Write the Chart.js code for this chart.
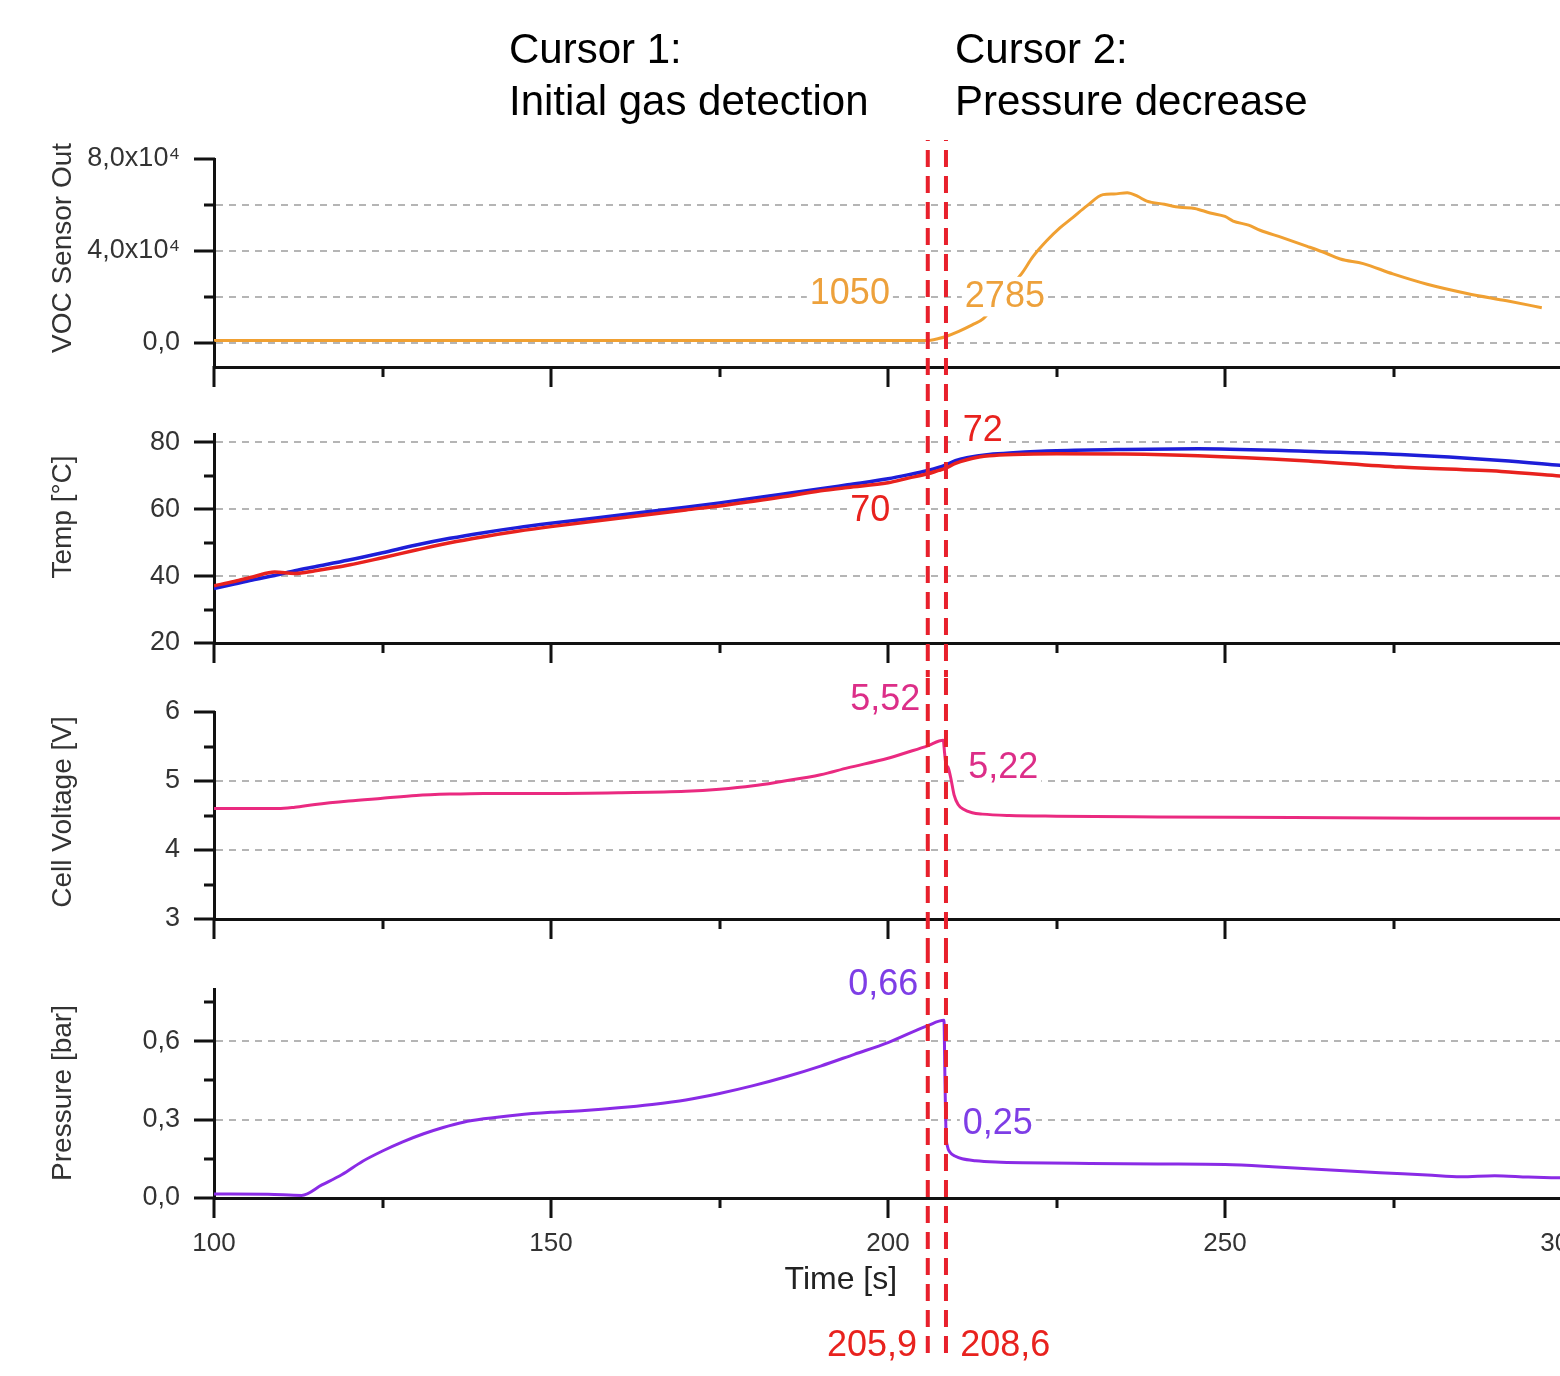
<!DOCTYPE html>
<html lang="en">
<head>
    <meta charset="UTF-8">
    <title>Cursor analysis - VOC, temperature, voltage, pressure</title>
    <script src="https://cdn.jsdelivr.net/npm/chart.js"></script>
    <style>
        body { margin: 0; background: #fff; }
        .stack { position: relative; width: 1560px; height: 1376px; overflow: hidden; background: #fff; }
        .stack canvas { position: absolute; left: 0; }
    </style>
</head>
<body>
    <div class="stack">
        <canvas id="vocChart" width="1560" height="400" style="top:0px"></canvas>
        <canvas id="tempChart" width="1560" height="277" style="top:400px"></canvas>
        <canvas id="voltChart" width="1560" height="277" style="top:677px"></canvas>
        <canvas id="presChart" width="1560" height="422" style="top:954px"></canvas>
    </div>

    <script>
        // --- data ---
        const vocTime  = [100, 205.7, 207.5, 208.6, 210.5, 212.5, 214.1, 216, 218, 219.8, 221.5, 223.5, 225.5, 227.4, 229.5, 231.9, 233.5, 235.5, 237, 238.4, 241, 243.3, 245.5, 247.8, 250, 251.2, 253.5, 255.2, 258.5, 262.2, 265, 267.1, 270.5, 274.9, 280, 285.9, 291.8, 297];
        const vocValue = [1050, 1050, 1900, 2785, 5000, 7800, 10400, 17000, 24000, 30000, 37500, 44300, 50000, 54500, 59600, 64500, 64800, 65300, 63800, 61700, 60300, 59000, 58500, 56500, 55000, 53000, 51200, 49000, 45800, 42000, 39000, 36500, 34500, 30000, 25500, 21500, 18300, 15300];

        const tempTime = [100, 103, 106, 109, 112, 115, 120, 125, 130, 135, 140, 145, 150, 160, 170, 175, 184, 190, 194, 200, 203, 205.9, 207.5, 208.6, 210, 211.7, 213.5, 215, 218.6, 225, 235, 246, 261, 276, 291, 300];
        const tempBlue = [36.3, 37.6, 39.0, 40.2, 41.6, 42.8, 44.8, 47.0, 49.3, 51.3, 53.0, 54.5, 55.8, 58.2, 60.6, 61.9, 64.4, 66.1, 67.3, 69.1, 70.3, 71.6, 72.5, 73.3, 74.5, 75.4, 76.0, 76.4, 76.9, 77.5, 77.9, 78.1, 77.4, 76.4, 74.6, 73.1];
        const tempRed  = [37.1, 38.4, 39.9, 41.2, 40.8, 41.6, 43.3, 45.5, 47.8, 50.0, 51.8, 53.4, 54.8, 57.3, 59.8, 61.0, 63.6, 65.5, 66.5, 67.9, 69.3, 70.6, 71.6, 72.3, 73.7, 74.8, 75.6, 76.0, 76.4, 76.6, 76.5, 76.0, 74.6, 72.6, 71.3, 69.9];

        const voltTime  = [100, 109.5, 112, 115, 120, 125, 130, 135, 140, 150, 160, 170, 175, 180, 184, 190, 194, 200, 203, 205.9, 208.2, 208.4, 208.6, 208.9, 209.3, 209.8, 210.4, 211.2, 212.5, 214, 218, 225, 240, 260, 280, 300];
        const voltValue = [4.60, 4.60, 4.62, 4.66, 4.71, 4.75, 4.79, 4.81, 4.82, 4.82, 4.83, 4.85, 4.88, 4.93, 4.99, 5.09, 5.19, 5.33, 5.42, 5.51, 5.59, 5.40, 5.24, 5.20, 5.05, 4.80, 4.66, 4.59, 4.54, 4.52, 4.50, 4.49, 4.48, 4.47, 4.46, 4.46];

        const presTime  = [100, 108, 113, 116, 119, 122, 125, 128, 131, 134, 137, 140, 145, 150, 155, 160, 165, 170, 175, 180, 185, 190, 195, 200, 205.9, 208.3, 208.45, 208.6, 208.8, 209.2, 210, 211, 213, 216, 220, 230, 240, 250, 257, 265, 273, 280, 285, 290, 295, 300];
        const presValue = [0.015, 0.014, 0.010, 0.05, 0.09, 0.14, 0.18, 0.215, 0.245, 0.27, 0.29, 0.303, 0.318, 0.328, 0.335, 0.345, 0.358, 0.375, 0.40, 0.43, 0.465, 0.505, 0.55, 0.595, 0.66, 0.68, 0.45, 0.25, 0.20, 0.175, 0.16, 0.15, 0.143, 0.138, 0.135, 0.132, 0.13, 0.128, 0.12, 0.108, 0.097, 0.088, 0.081, 0.085, 0.08, 0.077];

        // cursor positions and the readings written next to them
        const cursorTimes  = [205.9, 208.6];
        const cursorLabels = ['205,9', '208,6'];
        const cursorTitles = ['Cursor 1:', 'Cursor 2:'];
        const cursorNotes  = ['Initial gas detection', 'Pressure decrease'];
        const vocAtCursor  = ['1050', '2785'];
        const tempAtCursor = ['70', '72'];
        const voltAtCursor = ['5,52', '5,22'];
        const presAtCursor = ['0,66', '0,25'];

        // tick values of each axis
        const timeTicks = [100, 125, 150, 175, 200, 225, 250, 275, 300];
        const vocTicks  = [0, 20000, 40000, 60000, 80000];
        const tempTicks = [20, 30, 40, 50, 60, 70, 80];
        const voltTicks = [3, 3.5, 4, 4.5, 5, 5.5, 6];
        const presTicks = [0, 0.15, 0.3, 0.45, 0.6, 0.75];

        // --- styling ---
        const FONT = "'Liberation Sans', Arial, Helvetica, sans-serif";
        const ORANGE = '#f0a032';
        const BLUE = '#1e1ed8';
        const RED = '#e8221e';
        const MAGENTA = '#ea2a80';
        const PURPLE = '#8a2be6';
        const CURSOR_RED = '#e8202c';
        const GRID = '#b5b5b5';
        const AXIS = '#111';
        const X_MIN = 100, X_MAX = 299.7;
        const AREA_LEFT = 214;
        const NOTE_SIZE = 36;

        Chart.defaults.font.family = FONT;

        function isStep(v, step) {
            return Math.abs(v / step - Math.round(v / step)) < 1e-6;
        }

        function pts(xs, ys) {
            return xs.map((x, i) => ({ x: x, y: ys[i] }));
        }

        function line(label, xs, ys, color, width) {
            return {
                label: label,
                data: pts(xs, ys),
                borderColor: color,
                borderWidth: width || 3,
                pointRadius: 0,
                fill: false,
                cubicInterpolationMode: 'monotone'
            };
        }

        // text on a white patch, like the original labels that mask grid and curve
        function boxedText(ctx, str, x, y, color, align) {
            ctx.font = NOTE_SIZE + 'px ' + FONT;
            const w = ctx.measureText(str).width;
            const left = align === 'right' ? x - w : x;
            const cy = y + 2;
            ctx.fillStyle = '#fff';
            ctx.fillRect(left - 3, cy - NOTE_SIZE * 0.55, w + 6, NOTE_SIZE * 1.1);
            ctx.fillStyle = color;
            ctx.textAlign = 'left';
            ctx.textBaseline = 'middle';
            ctx.fillText(str, left, cy);
        }

        // draws tick marks, titles, readings and the cursor lines of one panel
        function decor(p) {
            return {
                id: 'decor',
                afterDraw(chart) {
                    const ctx = chart.ctx;
                    const xs = chart.scales.x, ys = chart.scales.y;
                    const area = chart.chartArea;

                    // tick marks, long for labelled ticks, short for the others
                    ctx.save();
                    ctx.strokeStyle = AXIS;
                    ctx.lineWidth = 3;
                    ctx.beginPath();
                    ys.ticks.forEach(t => {
                        const kind = p.yKind(t.value);
                        if (!kind) return;
                        const py = Math.round(ys.getPixelForValue(t.value));
                        ctx.moveTo(area.left - (kind === 'major' ? 20 : 10), py);
                        ctx.lineTo(area.left + 1, py);
                    });
                    xs.ticks.forEach(t => {
                        const px = Math.round(xs.getPixelForValue(t.value));
                        ctx.moveTo(px, area.bottom - 1);
                        ctx.lineTo(px, area.bottom + (isStep(t.value, 50) ? 20 : 10));
                    });
                    ctx.stroke();
                    ctx.restore();

                    // axis title
                    ctx.save();
                    ctx.translate(63, p.titleY - p.top);
                    ctx.rotate(-Math.PI / 2);
                    ctx.font = '28px ' + FONT;
                    ctx.fillStyle = '#333';
                    ctx.textAlign = 'center';
                    ctx.textBaseline = 'middle';
                    ctx.fillText(p.title, 0, 0);
                    ctx.restore();

                    // readings at the cursors
                    ctx.save();
                    p.readings.forEach(r => {
                        boxedText(ctx, r.text, xs.getPixelForValue(r.t), ys.getPixelForValue(r.v), r.color, 'left');
                    });
                    ctx.restore();

                    if (p.extra) p.extra(chart, ctx, xs, ys, area);

                    // cursor lines through the whole figure
                    ctx.save();
                    ctx.strokeStyle = CURSOR_RED;
                    ctx.lineWidth = 4;
                    ctx.setLineDash([17, 9]);
                    const y0 = Math.max(0, 140 - p.top);
                    const y1 = Math.min(chart.height, 1360 - p.top);
                    ctx.lineDashOffset = -(p.top + y0);
                    cursorTimes.forEach(t => {
                        const px = xs.getPixelForValue(t);
                        ctx.beginPath();
                        ctx.moveTo(px, y0);
                        ctx.lineTo(px, y1);
                        ctx.stroke();
                    });
                    ctx.restore();
                }
            };
        }

        function makePanel(p) {
            const isBottom = !!p.bottom;
            return new Chart(document.getElementById(p.id), {
                type: 'line',
                data: { datasets: p.datasets },
                options: {
                    responsive: false,
                    animation: false,
                    events: [],
                    layout: { padding: { top: p.areaTop - p.top, left: 0, right: 0, bottom: 0 } },
                    plugins: { legend: { display: false }, tooltip: { enabled: false } },
                    scales: {
                        x: {
                            type: 'linear',
                            min: X_MIN,
                            max: X_MAX,
                            grid: { display: false, drawTicks: false },
                            border: { display: true, color: AXIS, width: 3 },
                            ticks: {
                                display: isBottom,
                                autoSkip: false,
                                maxRotation: 0,
                                padding: 30,
                                color: '#333',
                                font: { size: 26 },
                                callback: v => isStep(v, 50) ? String(v) : ''
                            },
                            afterBuildTicks: s => { s.ticks = timeTicks.map(v => ({ value: v })); },
                            afterFit: s => {
                                s.height = p.top + p.height - p.areaBottom;
                                s.paddingLeft = 0; s.paddingRight = 0;
                            }
                        },
                        y: {
                            min: p.yMin,
                            max: p.yMax,
                            grid: {
                                drawTicks: false,
                                lineWidth: 2,
                                color: c => (c.tick && p.gridAt(c.tick.value)) ? GRID : 'rgba(0,0,0,0)'
                            },
                            border: { display: true, color: AXIS, width: 3, dash: [7, 6] },
                            ticks: {
                                autoSkip: false,
                                padding: 34,
                                color: '#333',
                                font: { size: 27 },
                                callback: v => p.yKind(v) === 'major' ? p.fmt(v) : ''
                            },
                            afterBuildTicks: s => { s.ticks = p.ticks.map(v => ({ value: v })); },
                            afterFit: s => {
                                s.width = AREA_LEFT;
                                s.paddingTop = 0; s.paddingBottom = 0;
                            }
                        }
                    }
                },
                plugins: [decor(p)]
            });
        }

        // VOC sensor
        makePanel({
            id: 'vocChart', top: 0, height: 400, areaTop: 159, areaBottom: 367,
            yMin: -10500, yMax: 80000, ticks: vocTicks,
            yKind: v => isStep(v, 40000) ? 'major' : 'minor',
            gridAt: v => v < 79000,
            fmt: v => v === 0 ? '0,0' : (v / 10000).toFixed(1).replace('.', ',') + 'x10\u2074',
            title: 'VOC Sensor Out', titleY: 248,
            datasets: [line('VOC', vocTime, vocValue, ORANGE)],
            readings: [
                { text: vocAtCursor[0], t: 188.4, v: 22000, color: '#eda13c' },
                { text: vocAtCursor[1], t: 211.4, v: 21000, color: '#eda13c' }
            ],
            extra: (chart, ctx) => {
                ctx.save();
                ctx.font = '42px ' + FONT;
                ctx.fillStyle = '#000';
                ctx.textAlign = 'left';
                ctx.textBaseline = 'middle';
                ctx.fillText(cursorTitles[0], 509, 51);
                ctx.fillText(cursorNotes[0], 509, 103);
                ctx.fillText(cursorTitles[1], 955, 51);
                ctx.fillText(cursorNotes[1], 955, 103);
                ctx.restore();
            }
        });

        // Temperature
        makePanel({
            id: 'tempChart', top: 400, height: 277, areaTop: 434, areaBottom: 643,
            yMin: 20, yMax: 82.5, ticks: tempTicks,
            yKind: v => isStep(v, 20) ? 'major' : 'minor',
            gridAt: v => v > 21 && isStep(v, 20),
            fmt: v => String(v),
            title: 'Temp [\u00B0C]', titleY: 517,
            datasets: [line('Temp 2', tempTime, tempRed, RED, 3.5), line('Temp 1', tempTime, tempBlue, BLUE, 3.5)],
            readings: [
                { text: tempAtCursor[0], t: 194.4, v: 60.0, color: RED },
                { text: tempAtCursor[1], t: 211.1, v: 84.0, color: RED }
            ]
        });

        // Cell voltage
        makePanel({
            id: 'voltChart', top: 677, height: 277, areaTop: 712, areaBottom: 919,
            yMin: 3, yMax: 6, ticks: voltTicks,
            yKind: v => isStep(v, 1) ? 'major' : 'minor',
            gridAt: v => v > 3.1 && v < 5.9 && isStep(v, 1),
            fmt: v => String(v),
            title: 'Cell Voltage [V]', titleY: 812,
            datasets: [line('Cell voltage', voltTime, voltValue, MAGENTA)],
            readings: [
                { text: voltAtCursor[0], t: 194.4, v: 6.2, color: '#dc2e88' },
                { text: voltAtCursor[1], t: 211.9, v: 5.21, color: '#dc2e88' }
            ]
        });

        // Pressure, carries the time axis
        makePanel({
            id: 'presChart', top: 954, height: 422, areaTop: 989, areaBottom: 1198, bottom: true,
            yMin: 0, yMax: 0.8, ticks: presTicks,
            yKind: v => isStep(v, 0.3) ? 'major' : 'minor',
            gridAt: v => v > 0.01 && isStep(v, 0.3),
            fmt: v => v.toFixed(1).replace('.', ','),
            title: 'Pressure [bar]', titleY: 1093,
            datasets: [line('Pressure', presTime, presValue, PURPLE)],
            readings: [
                { text: presAtCursor[0], t: 194.1, v: 0.822, color: '#7e3ee6' },
                { text: presAtCursor[1], t: 211.1, v: 0.292, color: '#7e3ee6' }
            ],
            extra: (chart, ctx, xs, ys, area) => {
                ctx.save();
                ctx.font = '32px ' + FONT;
                ctx.fillStyle = '#222';
                ctx.textAlign = 'center';
                ctx.textBaseline = 'middle';
                ctx.fillText('Time [s]', xs.getPixelForValue(193), area.bottom + 82);
                ctx.restore();
                ctx.save();
                boxedText(ctx, cursorLabels[0], xs.getPixelForValue(204.3), area.bottom + 146, RED, 'right');
                boxedText(ctx, cursorLabels[1], xs.getPixelForValue(210.7), area.bottom + 146, RED, 'left');
                ctx.restore();
            }
        });
    </script>
</body>
</html>
